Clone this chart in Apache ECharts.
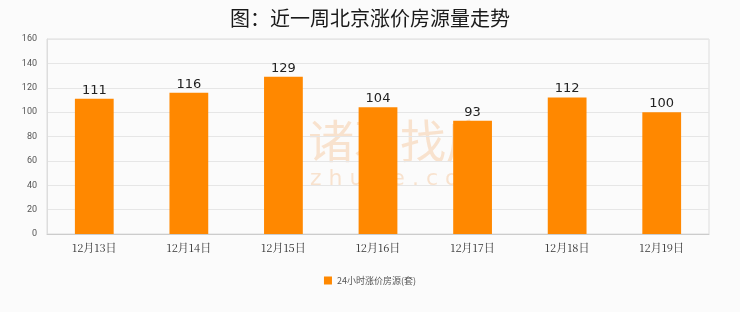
<!DOCTYPE html>
<html>
<head>
<meta charset="utf-8">
<style>
  html, body { margin: 0; padding: 0; background: #fbfbfb; }
  #chart { width: 740px; height: 312px; }
</style>
<script src="https://cdn.jsdelivr.net/npm/echarts@6/dist/echarts.min.js"></script>
</head>
<body>
<div id="chart"></div>
<script>
// Daily count of listings with a price increase, Beijing, past week
const categories = ['12月13日', '12月14日', '12月15日', '12月16日', '12月17日', '12月18日', '12月19日'];
const risingListings = [111, 116, 129, 104, 93, 112, 100];
const yTicks = { min: 0, max: 160, interval: 20 };
const seriesName = '24小时涨价房源(套)';
const titleText = '图：近一周北京涨价房源量走势';

const chart = echarts.init(document.getElementById('chart'), null, { renderer: 'canvas' });

chart.setOption({
  backgroundColor: '#fbfbfb',
  animation: false,
  title: {
    text: titleText,
    left: 'center',
    top: 3,
    textStyle: {
      fontFamily: 'Noto Sans CJK SC',
      fontSize: 20,
      fontWeight: 'normal',
      color: '#1a1a1a'
    }
  },
  graphic: [
    {
      type: 'text',
      left: 308,
      top: 118,
      z: 0,
      style: {
        text: '诸葛找房',
        fontFamily: 'Noto Sans CJK SC',
        fontSize: 46,
        fill: 'rgba(245,190,140,0.4)'
      }
    },
    {
      type: 'text',
      left: 310,
      top: 168,
      z: 0,
      style: {
        text: 'z h u g e . c o m',
        fontFamily: 'DejaVu Sans',
        fontSize: 22,
        fill: 'rgba(245,190,140,0.4)'
      }
    }
  ],
  grid: {
    left: 47,
    right: 31,
    top: 39,
    bottom: 78,
    show: true,
    borderColor: '#dddddd',
    borderWidth: 1,
    backgroundColor: 'transparent'
  },
  legend: {
    bottom: 22,
    left: 'center',
    itemWidth: 8,
    itemHeight: 8,
    icon: 'rect',
    textStyle: {
      fontFamily: 'Noto Sans CJK SC',
      fontSize: 9,
      color: '#555'
    },
    data: [seriesName]
  },
  xAxis: {
    type: 'category',
    data: categories,
    axisLine: { lineStyle: { color: '#cccccc' } },
    axisTick: { show: false },
    axisLabel: {
      fontFamily: 'Noto Serif CJK SC, Noto Sans CJK SC',
      fontSize: 11,
      color: '#333',
      margin: 8
    }
  },
  yAxis: {
    type: 'value',
    min: yTicks.min,
    max: yTicks.max,
    interval: yTicks.interval,
    axisLine: { show: true, lineStyle: { color: '#dddddd' } },
    axisTick: { show: false },
    axisLabel: {
      fontFamily: 'Roboto',
      fontSize: 9,
      color: '#555',
      margin: 10
    },
    splitLine: { lineStyle: { color: '#e6e6e6' } }
  },
  series: [
    {
      name: seriesName,
      type: 'bar',
      data: risingListings,
      barWidth: '41%',
      itemStyle: { color: '#ff8800' },
      label: {
        show: true,
        position: 'top',
        distance: 2,
        fontFamily: 'DejaVu Sans',
        fontSize: 13,
        color: '#222'
      }
    }
  ]
});
</script>
</body>
</html>
